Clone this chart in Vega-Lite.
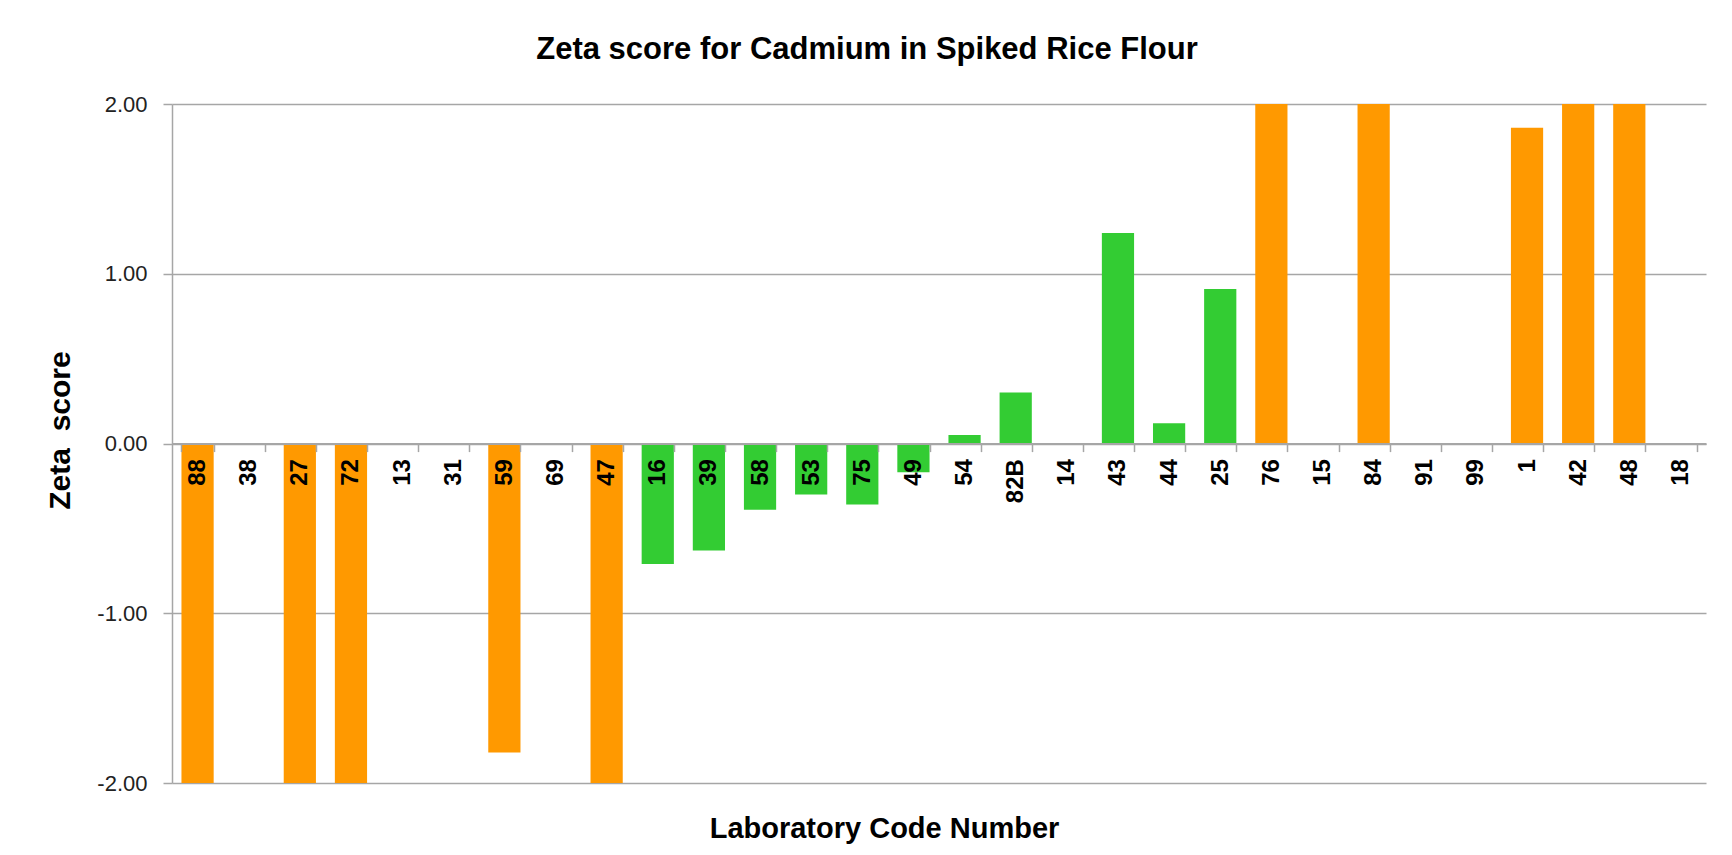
{
  "$schema": "https://vega.github.io/schema/vega-lite/v6.json",
  "width": 1534,
  "height": 679,
  "autosize": {"type": "none"},
  "padding": {"left": 172, "top": 104, "right": 26, "bottom": 72},
  "background": "white",
  "title": {
    "text": "Zeta score for Cadmium in Spiked Rice Flour",
    "font": "Liberation Sans",
    "fontSize": 31,
    "fontWeight": "bold",
    "color": "#000000",
    "anchor": "middle",
    "frame": "group",
    "dx": -72,
    "offset": 3,
    "baseline": "alphabetic"
  },
  "data": {
    "values": [
      {"lab": "88", "zeta": -2, "class": "outside"},
      {"lab": "38", "zeta": null, "class": "none"},
      {"lab": "27", "zeta": -2, "class": "outside"},
      {"lab": "72", "zeta": -2, "class": "outside"},
      {"lab": "13", "zeta": null, "class": "none"},
      {"lab": "31", "zeta": null, "class": "none"},
      {"lab": "59", "zeta": -1.82, "class": "outside"},
      {"lab": "69", "zeta": null, "class": "none"},
      {"lab": "47", "zeta": -2, "class": "outside"},
      {"lab": "16", "zeta": -0.71, "class": "within"},
      {"lab": "39", "zeta": -0.63, "class": "within"},
      {"lab": "58", "zeta": -0.39, "class": "within"},
      {"lab": "53", "zeta": -0.30, "class": "within"},
      {"lab": "75", "zeta": -0.36, "class": "within"},
      {"lab": "49", "zeta": -0.17, "class": "within"},
      {"lab": "54", "zeta": 0.05, "class": "within"},
      {"lab": "82B", "zeta": 0.30, "class": "within"},
      {"lab": "14", "zeta": null, "class": "none"},
      {"lab": "43", "zeta": 1.24, "class": "within"},
      {"lab": "44", "zeta": 0.12, "class": "within"},
      {"lab": "25", "zeta": 0.91, "class": "within"},
      {"lab": "76", "zeta": 2, "class": "outside"},
      {"lab": "15", "zeta": null, "class": "none"},
      {"lab": "84", "zeta": 2, "class": "outside"},
      {"lab": "91", "zeta": null, "class": "none"},
      {"lab": "99", "zeta": null, "class": "none"},
      {"lab": "1", "zeta": 1.86, "class": "outside"},
      {"lab": "42", "zeta": 2, "class": "outside"},
      {"lab": "48", "zeta": 2, "class": "outside"},
      {"lab": "18", "zeta": null, "class": "none"}
    ]
  },
  "mark": {"type": "bar"},
  "encoding": {
    "x": {
      "field": "lab",
      "type": "nominal",
      "sort": null,
      "scale": {
        "domain": ["88","38","27","72","13","31","59","69","47","16","39","58","53","75","49","54","82B","14","43","44","25","76","15","84","91","99","1","42","48","18"],
        "paddingInner": 0.37,
        "paddingOuter": 0.185
      },
      "axis": {
        "title": "Laboratory Code Number",
        "orient": "bottom",
        "offset": -339.4,
        "zindex": 1,
        "labelAngle": -90,
        "labelOverlap": false,
        "labelFont": "Liberation Sans",
        "labelFontWeight": "bold",
        "labelFontSize": 24,
        "labelColor": "#000000",
        "labelPadding": 7,
        "tickBand": "extent",
        "tickSize": 8,
        "tickColor": "#a6a6a6",
        "tickWidth": 1.5,
        "domainColor": "#a6a6a6",
        "domainWidth": 2,
        "grid": false,
        "titleFont": "Liberation Sans",
        "titleFontSize": 29,
        "titleFontWeight": "bold",
        "titleColor": "#000000",
        "titleX": 712,
        "titleY": 385,
        "titleAlign": "center",
        "titleBaseline": "middle"
      }
    },
    "y": {
      "field": "zeta",
      "type": "quantitative",
      "scale": {"domain": [-2, 2], "nice": false, "zero": false},
      "axis": {
        "title": "Zeta\u00a0 score",
        "values": [-2, -1, 0, 1, 2],
        "labelExpr": "replace(format(datum.value, '.2f'), '\u2212', '-')",
        "labelFont": "Liberation Sans",
        "labelFontSize": 22,
        "labelColor": "#222222",
        "labelPadding": 16,
        "tickSize": 9,
        "tickColor": "#a6a6a6",
        "tickWidth": 1.5,
        "domainColor": "#a6a6a6",
        "domainWidth": 1.5,
        "grid": true,
        "gridColor": "#a6a6a6",
        "gridWidth": 1.5,
        "titleFont": "Liberation Sans",
        "titleFontSize": 30,
        "titleFontWeight": "bold",
        "titleColor": "#000000",
        "titleAngle": -90,
        "titleX": -112,
        "titleY": 326,
        "titleAlign": "center",
        "titleBaseline": "middle"
      }
    },
    "color": {
      "field": "class",
      "type": "nominal",
      "scale": {"domain": ["outside", "within", "none"], "range": ["#FF9900", "#33CC33", "#ffffff"]},
      "legend": null
    }
  },
  "config": {"view": {"stroke": null}}
}
